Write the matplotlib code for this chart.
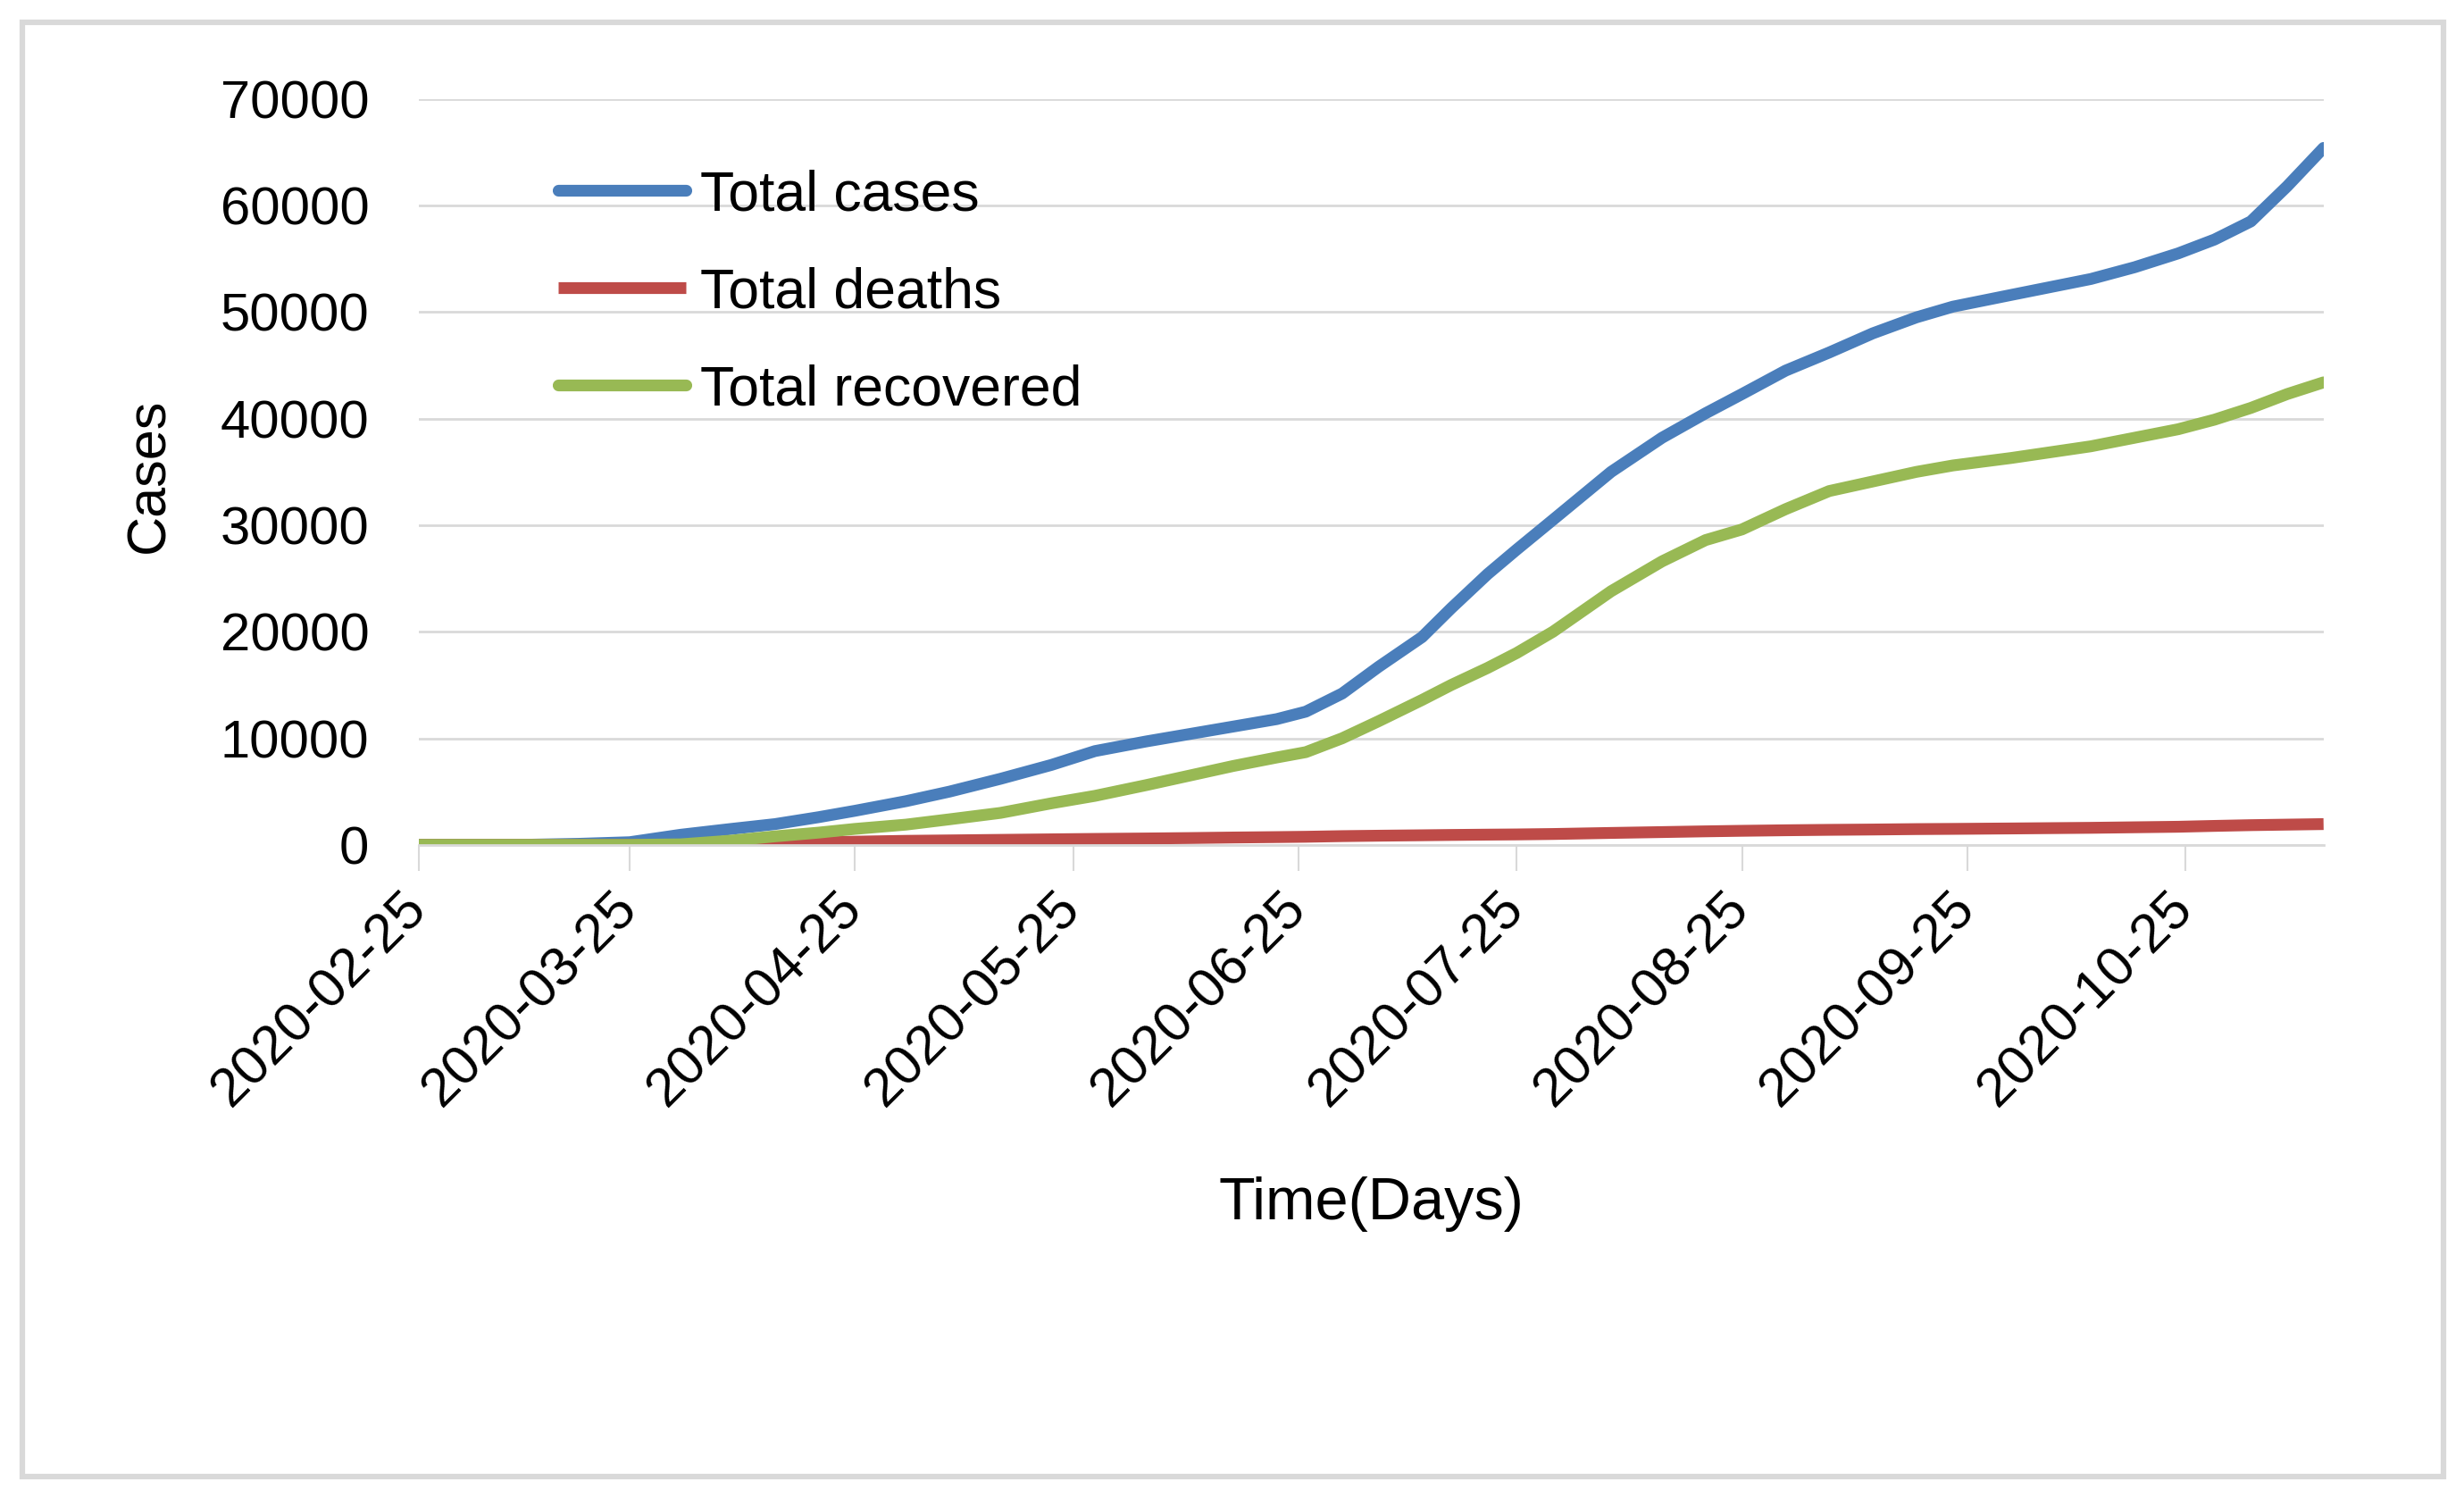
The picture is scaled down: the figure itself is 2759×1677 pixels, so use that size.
import matplotlib
matplotlib.use("Agg")
import matplotlib.pyplot as plt
import matplotlib.dates as mdates
from matplotlib.patches import Rectangle
import numpy as np
import pandas as pd

plt.rcParams['font.family'] = ['Liberation Sans', 'DejaVu Sans']

# values
dates = ["2020-02-25", "2020-03-10", "2020-03-18", "2020-03-25", "2020-04-01",
         "2020-04-08", "2020-04-14", "2020-04-20", "2020-04-25", "2020-05-02",
         "2020-05-08", "2020-05-15", "2020-05-22", "2020-05-28", "2020-06-04",
         "2020-06-10", "2020-06-16", "2020-06-22", "2020-06-26", "2020-07-01",
         "2020-07-06", "2020-07-12", "2020-07-16", "2020-07-21", "2020-07-25",
         "2020-07-30", "2020-08-07", "2020-08-14", "2020-08-20", "2020-08-25",
         "2020-08-31", "2020-09-06", "2020-09-12", "2020-09-18", "2020-09-23",
         "2020-10-01", "2020-10-12", "2020-10-18", "2020-10-24", "2020-10-29",
         "2020-11-03", "2020-11-08", "2020-11-13"]
total_cases = [0, 0, 100, 250, 950,
               1500, 1950, 2600, 3200, 4100,
               5000, 6200, 7500, 8800, 9700,
               10400, 11100, 11800, 12500, 14200,
               16700, 19500, 22200, 25400, 27700,
               30500, 35000, 38200, 40500, 42300,
               44500, 46200, 48000, 49500, 50500,
               51600, 53100, 54200, 55500, 56800,
               58500, 61800, 65400]
total_deaths = [0, 0, 0, 2, 10,
                60, 120, 230, 300, 380,
                420, 470, 520, 560, 600,
                640, 690, 730, 760, 820,
                860, 900, 930, 960, 980,
                1020, 1120, 1200, 1270, 1320,
                1370, 1410, 1440, 1480, 1500,
                1540, 1600, 1650, 1700, 1780,
                1850, 1900, 1950]
total_recovered = [0, 0, 0, 0, 50,
                   400, 800, 1150, 1500, 1900,
                   2400, 3000, 3900, 4600, 5600,
                   6500, 7400, 8200, 8700, 10000,
                   11600, 13600, 15000, 16600, 18000,
                   20000, 23800, 26600, 28600, 29600,
                   31500, 33200, 34100, 35000, 35600,
                   36300, 37400, 38200, 39000, 39900,
                   41000, 42300, 43400]
tick_dates = ["2020-02-25", "2020-03-25", "2020-04-25", "2020-05-25", "2020-06-25",
              "2020-07-25", "2020-08-25", "2020-09-25", "2020-10-25"]
y_ticks = [0, 10000, 20000, 30000, 40000, 50000, 60000, 70000]

x = pd.to_datetime(dates)
grid_col = '#d9d9d9'

fig = plt.figure(figsize=(27.59, 16.77), dpi=100)
ax = fig.add_axes([0.170, 0.436, 0.773, 0.498])

lw = 9.5
ax.plot(x, total_cases, color='#4a7ebb', lw=lw, solid_capstyle='round',
        solid_joinstyle='round', label='Total cases')
ax.plot(x, total_deaths, color='#be4b48', lw=lw, solid_capstyle='butt',
        solid_joinstyle='round', label='Total deaths')
ax.plot(x, total_recovered, color='#98b954', lw=lw, solid_capstyle='round',
        solid_joinstyle='round', label='Total recovered')

ax.set_xlim(pd.Timestamp("2020-02-25"), pd.Timestamp("2020-11-13"))
ax.set_ylim(0, 70000)
ax.set_yticks(y_ticks)
ax.set_yticklabels([str(v) for v in y_ticks])
ax.set_xticks(pd.to_datetime(tick_dates))
ax.xaxis.set_major_formatter(mdates.DateFormatter('%Y-%m-%d'))

for s in ['top', 'right', 'left']:
    ax.spines[s].set_visible(False)
ax.spines['bottom'].set_color(grid_col)
ax.spines['bottom'].set_linewidth(2)
ax.yaxis.grid(True, color=grid_col, lw=2)
ax.set_axisbelow(True)

ax.tick_params(axis='y', length=0, pad=40, labelsize=43)
ax.tick_params(axis='x', direction='out', length=21, width=1.5, color=grid_col, pad=24, labelsize=44)
for lab in ax.get_xticklabels():
    lab.set_rotation(45)
    lab.set_ha('right')
    lab.set_va('center')
    lab.set_rotation_mode('anchor')

ax.set_ylabel('Cases', fontsize=44)
ax.yaxis.set_label_coords(-0.128, 0.495)
ax.set_xlabel('Time(Days)', fontsize=48)
ax.xaxis.set_label_coords(0.5, -0.445)

ax.legend(loc='upper left', bbox_to_anchor=(0.073, 0.906), frameon=False,
          fontsize=45, handlelength=2.3, handletextpad=0.25, labelspacing=0.8,
          borderpad=0, borderaxespad=0)

fig.patches.append(Rectangle((0.009, 0.0143), 0.9827, 0.9707, transform=fig.transFigure,
                             fill=False, edgecolor=grid_col, lw=4.5))

fig.savefig('out.png', dpi=100)
